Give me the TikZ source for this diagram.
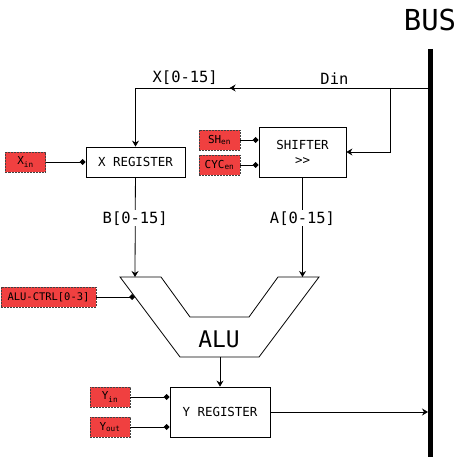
\documentclass[tikz,border=0pt]{standalone}
\usepackage{fontspec}
\setmainfont{DejaVu Sans Mono}
\usetikzlibrary{positioning, arrows.meta, decorations.markings}
\definecolor{ctrlred}{RGB}{240,64,64}
\tikzset{
  >={Stealth[length=6bp, width=7bp, inset=2bp]},
  regbox/.style={draw, fill=white, align=center, font=\fontsize{12.5}{15}\selectfont},
  ctrlbox/.style={draw=black!75, dash pattern=on 2bp off 1bp, fill=ctrlred, inner sep=1pt, minimum height=20bp, font=\fontsize{11}{12}\selectfont},
  buslbl/.style={font=\fontsize{15.5}{17}\selectfont},
  ctl/.style={-{Diamond[length=6bp, width=6bp]}},
  midarrow/.style={postaction={decorate}, decoration={markings, mark=at position #1 with {\arrow{>}}}},
}

\begin{document}
\begin{tikzpicture}[x=1bp, y=-1bp, line width=0.8bp]
  \useasboundingbox (0,0) rectangle (458,461);

  % bus
  \node[font=\fontsize{29}{32}\selectfont] (buslabel) at (430,20) {BUS};
  \coordinate (bustop) at (430.5,49);
  \coordinate (busbot) at (430.5,457);
  \draw[line width=5.5bp] (bustop) -- (busbot);
  \coordinate (busdin) at (428,88);
  \coordinate (busyout) at (428,412);

  % blocks
  \node[regbox, minimum width=99bp, minimum height=30bp] (xreg) at (135.5,162) {X REGISTER};
  \node[regbox, minimum width=87bp, minimum height=50bp] (shifter) at (302.5,152) {SHIFTER\\>{}>};
  \node[regbox, minimum width=100bp, minimum height=50bp] (yreg) at (220,412) {Y REGISTER};

  % control signals
  \node[ctrlbox, minimum width=40bp] (xin) at (25.5,162) {X\textsubscript{in}};
  \node[ctrlbox, minimum width=41bp] (shen) at (219.5,140) {SH\textsubscript{en}};
  \node[ctrlbox, minimum width=41bp] (cycen) at (219.5,165) {CYC\textsubscript{en}};
  \node[ctrlbox, minimum width=95bp, font=\fontsize{10.5}{12}\selectfont] (aluctrl) at (48.5,297) {ALU-CTRL[0-3]};
  \node[ctrlbox, minimum width=40bp] (yin) at (110,397) {Y\textsubscript{in}};
  \node[ctrlbox, minimum width=40bp] (yout) at (110,427) {Y\textsubscript{out}};

  % alu
  \draw (120,277) -- (161,277) -- (190,317) -- (249,317) -- (278,277)
    -- (319,277) -- (259,357) -- (180,357) -- cycle;
  \node[font=\fontsize{23}{26}\selectfont] (alulabel) at (219,339) {ALU};
  \coordinate (alub) at (135,277);
  \coordinate (alua) at (302.5,277);
  \coordinate (aluctl) at (135,297);
  \coordinate (aluout) at (220,357);

  % data paths
  \coordinate (xcorner) at (135.5,88);
  \coordinate (branch) at (390.5,88);
  \draw[midarrow=0.565, ->] (busdin) -- (xcorner)
    node[buslbl, pos=0.32, above=0bp] {Din}
    node[buslbl, pos=0.83, above=0bp] {X[0-15]}
    -- (xreg);
  \draw[->] (branch) |- (shifter);
  \draw[->] (xreg) -- (alub) node[buslbl, pos=0.41, fill=white, inner sep=1bp] {B[0-15]};
  \draw[->] (shifter) -- (alua) node[buslbl, pos=0.41, fill=white, inner sep=1bp] {A[0-15]};
  \draw[->] (aluout) -- (yreg);
  \draw[->] (yreg) -- (busyout);

  % control lines
  \draw[ctl] (xin) -- (xreg);
  \draw[ctl] (shen) -- (shen -| shifter.west);
  \draw[ctl] (cycen) -- (cycen -| shifter.west);
  \draw[ctl] (aluctrl) -- (aluctl);
  \draw[ctl] (yin) -- (yin -| yreg.west);
  \draw[ctl] (yout) -- (yout -| yreg.west);
\end{tikzpicture}
\end{document}
